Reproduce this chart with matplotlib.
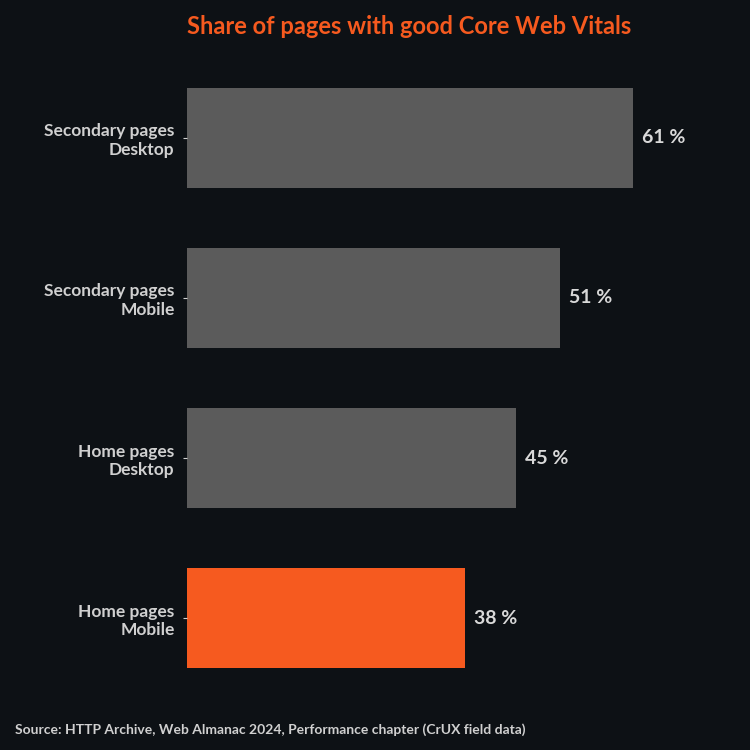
import matplotlib
matplotlib.use("Agg")
import matplotlib.pyplot as plt

categories = ["Home pages\nMobile", "Home pages\nDesktop", "Secondary pages\nMobile", "Secondary pages\nDesktop"]
values = [38, 45, 51, 61]
colors = ["#f65a1f", "#5b5b5b", "#5b5b5b", "#5b5b5b"]

plt.rcParams['font.family'] = ['Lato', 'DejaVu Sans']
bg = "#0d1115"
fig = plt.figure(figsize=(7.5, 7.5), dpi=100, facecolor=bg)
ax = fig.add_axes([187/750, 52/750, 563/750, 640/750], facecolor=bg)
ax.barh(range(len(values)), values, height=0.62, color=colors)
ax.set_xlim(0, 563/7.31)
ax.set_ylim(-0.5, 3.5)
for i, v in enumerate(values):
    ax.text(v + 1.2, i, f"{v} %", va="center", ha="left", color="#d9d9d9",
            fontsize=14, fontweight="bold")
ax.set_yticks(range(len(values)))
ax.set_yticklabels(categories, color="#d0d0d0", fontsize=12.5, fontweight="bold", ha="right")
ax.tick_params(axis="y", length=3, color="#d0d0d0", pad=6)
ax.set_xticks([])
for s in ax.spines.values():
    s.set_visible(False)
fig.text(187/750, 1 - 27/750, "Share of pages with good Core Web Vitals", color="#f65a1f",
         fontsize=17, fontweight="bold", ha="left", va="center")
fig.text(15/750, 1 - 730/750, "Source: HTTP Archive, Web Almanac 2024, Performance chapter (CrUX field data)",
         color="#d0d0d0", fontsize=10, fontweight="bold", ha="left", va="center")
fig.savefig("out.png", facecolor=bg)
